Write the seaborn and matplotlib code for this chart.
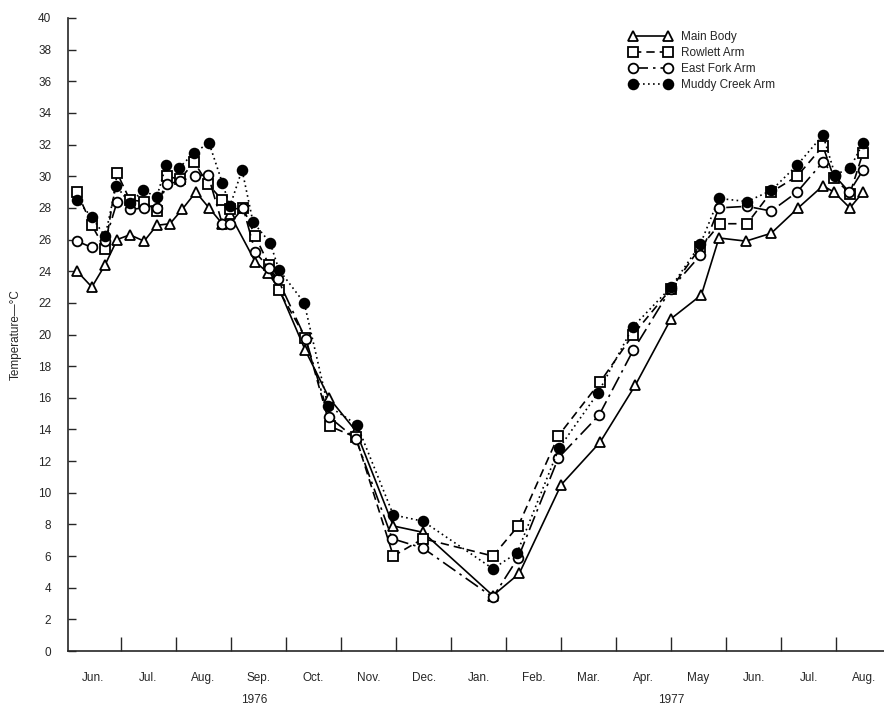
import matplotlib
matplotlib.use("Agg")
import matplotlib.pyplot as plt
import seaborn as sns
import pandas as pd

# x = months since 1 June 1976
main_x = [0.20, 0.47, 0.71, 0.93, 1.16, 1.42, 1.65, 1.89, 2.11, 2.36, 2.60, 2.84, 2.98,
          3.44, 3.67, 3.87, 4.35, 4.78, 5.27, 5.95, 6.49, 7.76, 8.24, 9.00, 9.71, 10.35,
          11.00, 11.55, 11.87, 12.36, 12.82, 13.31, 13.76, 13.96, 14.25, 14.49]
main_y = [24.0, 23.0, 24.4, 26.0, 26.3, 25.9, 26.9, 27.0, 27.9, 29.0, 28.0, 27.0, 27.6,
          24.6, 23.9, 22.9, 19.0, 16.0, 13.9, 7.9, 7.5, 3.5, 4.9, 10.5, 13.2, 16.8,
          21.0, 22.5, 26.1, 25.9, 26.4, 28.0, 29.4, 29.0, 28.0, 29.0]

rowlett_x = [0.20, 0.47, 0.71, 0.93, 1.16, 1.42, 1.65, 1.84, 2.07, 2.33, 2.58, 2.84, 2.98,
             3.22, 3.44, 3.69, 3.87, 4.35, 4.80, 5.27, 5.95, 6.49, 7.76, 8.22, 8.95, 9.71,
             10.31, 11.00, 11.53, 11.89, 12.38, 12.82, 13.29, 13.76, 13.96, 14.25, 14.49]
rowlett_y = [29.0, 26.9, 25.4, 30.2, 28.5, 28.4, 27.8, 30.0, 29.8, 30.9, 29.5, 28.5, 27.9,
             28.0, 26.2, 24.4, 22.8, 19.8, 14.2, 13.5, 6.0, 7.1, 6.0, 7.9, 13.6, 17.0,
             20.0, 22.9, 25.5, 27.0, 27.0, 29.0, 30.0, 31.9, 29.9, 28.9, 31.5]

east_x = [0.20, 0.47, 0.71, 0.93, 1.16, 1.42, 1.65, 1.84, 2.07, 2.35, 2.58, 2.84, 2.98,
          3.22, 3.44, 3.69, 3.85, 4.36, 4.78, 5.27, 5.93, 6.49, 7.76, 8.22, 8.95, 9.69,
          10.31, 11.00, 11.53, 11.87, 12.38, 12.82, 13.29, 13.76, 13.98, 14.24, 14.49]
east_y = [25.9, 25.5, 25.9, 28.4, 27.9, 28.0, 28.0, 29.5, 29.7, 30.0, 30.1, 27.0, 27.0,
          28.0, 25.2, 24.2, 23.5, 19.7, 14.8, 13.4, 7.1, 6.5, 3.4, 5.9, 12.2, 14.9,
          19.0, 22.9, 25.0, 28.0, 28.1, 27.8, 29.0, 30.9, 30.0, 29.0, 30.4]

muddy_x = [0.20, 0.47, 0.71, 0.91, 1.16, 1.40, 1.65, 1.82, 2.05, 2.33, 2.60, 2.84, 2.98,
           3.20, 3.40, 3.71, 3.87, 4.33, 4.76, 5.29, 5.95, 6.49, 7.76, 8.20, 8.96, 9.67,
           10.31, 11.00, 11.53, 11.87, 12.38, 12.82, 13.29, 13.76, 13.98, 14.25, 14.49]
muddy_y = [28.5, 27.4, 26.2, 29.4, 28.3, 29.1, 28.7, 30.7, 30.5, 31.5, 32.1, 29.6, 28.1,
           30.4, 27.1, 25.8, 24.1, 22.0, 15.5, 14.3, 8.6, 8.2, 5.2, 6.2, 12.8, 16.3,
           20.5, 23.0, 25.7, 28.6, 28.4, 29.1, 30.7, 32.6, 30.1, 30.5, 32.1]

month_labels = ["Jun.", "Jul.", "Aug.", "Sep.", "Oct.", "Nov.", "Dec.", "Jan.", "Feb.",
                "Mar.", "Apr.", "May", "Jun.", "Jul.", "Aug."]
years = ["1976", "1977"]
year_pos = [3.42, 11.0]

series = [
    ("Main Body", main_x, main_y, "^", "white", (None, None)),
    ("Rowlett Arm", rowlett_x, rowlett_y, "s", "white", (5, 3)),
    ("East Fork Arm", east_x, east_y, "o", "white", (9, 3, 1.5, 3)),
    ("Muddy Creek Arm", muddy_x, muddy_y, "o", "black", (1, 2)),
]

sns.set_style("ticks")
plt.rcParams["font.family"] = ["Liberation Sans", "DejaVu Sans"]

fig = plt.figure(figsize=(8.84, 7.08), dpi=100)
ax = fig.add_axes([68 / 884, 57 / 708, 816 / 884, 633 / 708])

for name, xs, ys, mk, fc, dash in series:
    df = pd.DataFrame({"month": xs, "temp": ys})
    line_kw = dict(marker=mk, markersize=7 if mk != "^" else 7.5, markerfacecolor=fc,
                   markeredgecolor="black", markeredgewidth=1.3, color="black",
                   linewidth=1.2, label=name)
    if mk == "s":
        line_kw["markersize"] = 6.5
    sns.lineplot(data=df, x="month", y="temp", ax=ax, estimator=None, sort=False,
                 **line_kw)
    if dash[0] is not None:
        ax.lines[-1].set_dashes(dash)

ax.set_xlim(0.036, 14.87)
ax.set_ylim(0, 40)
ax.set_yticks(range(0, 41, 2))
ax.tick_params(axis="y", direction="in", length=6, width=1, labelsize=8.5, pad=12)

ax.set_xticks([m + 0.5 for m in range(15)])
ax.set_xticklabels(month_labels, fontsize=8.5)
ax.set_xticks(range(1, 15), minor=True)
ax.tick_params(axis="x", which="major", length=0, pad=15)
ax.tick_params(axis="x", which="minor", direction="in", length=10, width=1)

for yr, pos in zip(years, year_pos):
    ax.text(pos, -0.077, yr, transform=ax.get_xaxis_transform(), ha="center",
            va="center", fontsize=8.5)

ax.set_xlabel("")
ax.set_ylabel("Temperature\u2014\u00b0C", fontsize=8.5, labelpad=12)
sns.despine(ax=ax)
for sp in ax.spines.values():
    sp.set_linewidth(1.2)

ax.legend(loc="upper left", bbox_to_anchor=(0.682, 0.987), frameon=False, numpoints=2,
          handlelength=3.6, handletextpad=0.8, labelspacing=0.35, fontsize=8.5,
          borderaxespad=0)

fig.savefig("out.png", dpi=100)
